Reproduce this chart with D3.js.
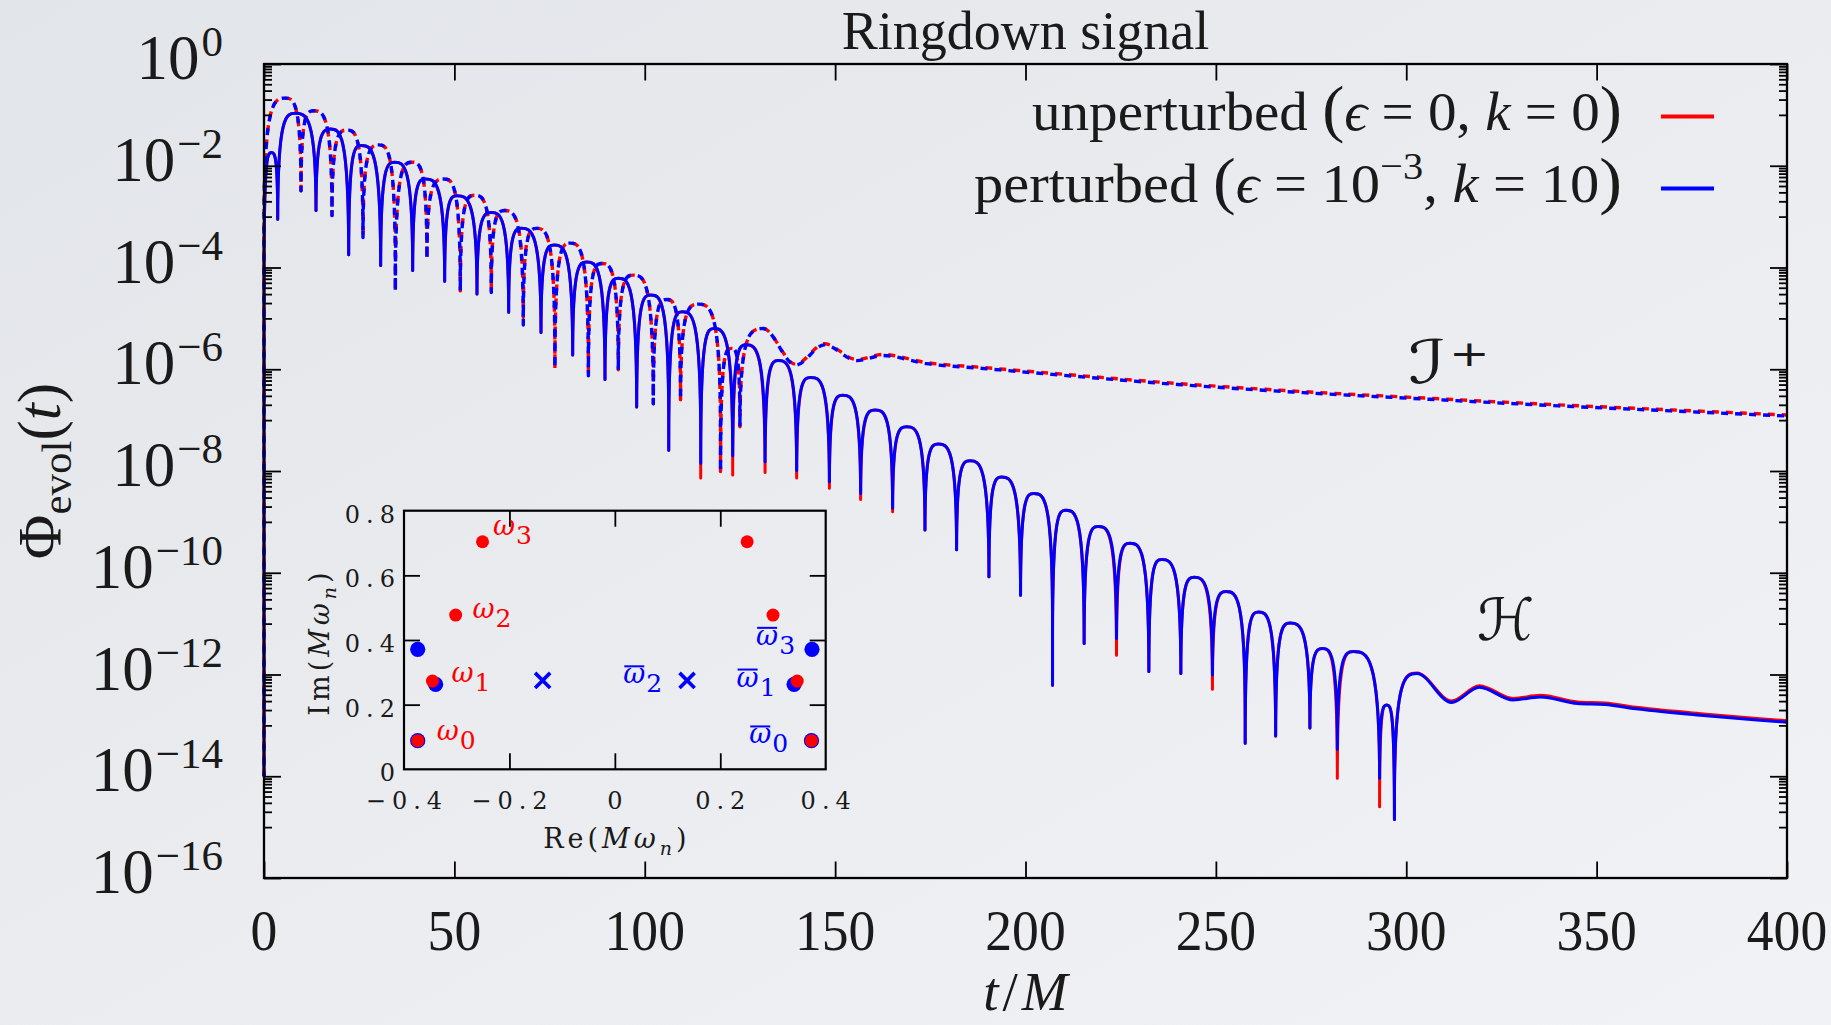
<!DOCTYPE html>
<html>
<head>
<meta charset="utf-8">
<script src="https://cdn.jsdelivr.net/npm/d3@7"></script>
<style>
  html, body { margin: 0; padding: 0; overflow: hidden; }
  body { width: 1831px; height: 1025px; }
</style>
</head>
<body>
<svg id="chart" width="1831" height="1025"></svg>
<script>
// ---------------------------------------------------------------
// Ringdown data.  Values are log10 of Phi_evol; times are t/M.
// Each ringing branch is stored as alternating zero crossings (dips)
// and lobe maxima, followed by the smooth late-time tail.
// ---------------------------------------------------------------

// Horizon (H) signal, solid lines
const hDipT = [0, 3.6, 13.66, 22.24, 30.64, 39.05, 47.45, 55.94, 64.26, 72.75,
  81.07, 89.56, 97.88, 106.3, 114.7, 123.1, 131.6, 139.9, 148.5, 156.7,
  165.1, 173.6, 181.9, 190.4, 198.7, 207.1, 215.4, 223.9, 232.4, 240.8,
  249.1, 257.7, 265.7, 274.7, 281.9, 293.0, 296.9];
const hDipUnpert = [-14, -3.05, -2.88, -3.75, -3.96, -4.06, -4.27, -4.52, -4.88, -5.28,
  -5.72, -6.2, -6.74, -7.59, -8.14, -8.08, -8.03, -8.14, -8.34, -8.56,
  -8.8, -9.16, -9.55, -10.08, -10.44, -12.21, -11.39, -11.62, -11.94, -11.98,
  -12.29, -13.35, -13.21, -13.05, -14.04, -14.6, -14.85];
const hDipPert = [-14, -3.05, -2.88, -3.75, -3.96, -4.06, -4.27, -4.52, -4.88, -5.28,
  -5.72, -6.2, -6.74, -7.59, -7.85, -7.7, -7.82, -7.99, -8.21, -8.44,
  -8.73, -9.16, -9.55, -10.08, -10.44, -12.21, -11.39, -11.29, -11.94, -11.98,
  -12.01, -13.35, -13.21, -13.05, -13.47, -14.04, -14.85];
const hPeakT = [1.92, 8.23, 17.42, 25.56, 34.32, 42.37, 50.69, 59.71, 67.6, 76.25,
  84.75, 93.06, 101.56, 109.87, 118.2, 126.6, 135.1, 143.6, 152.0, 160.5,
  168.8, 177.1, 185.4, 193.7, 202.2, 210.6, 219.1, 227.4, 235.8, 244.3,
  252.7, 261.2, 269.5, 278.0, 286.1, 294.9, 302.8];
const hPeakUnpert = [-1.74, -0.97, -1.28, -1.6, -1.93, -2.26, -2.59, -2.92, -3.23, -3.56,
  -3.89, -4.21, -4.54, -4.87, -5.2, -5.52, -5.83, -6.16, -6.51, -6.8,
  -7.13, -7.47, -7.8, -8.12, -8.44, -8.77, -9.09, -9.42, -9.74, -10.09,
  -10.37, -10.77, -10.99, -11.49, -11.55, -12.6, -11.97];
const hPeakPert = [-1.74, -0.97, -1.28, -1.6, -1.93, -2.26, -2.59, -2.92, -3.23, -3.56,
  -3.89, -4.21, -4.54, -4.87, -5.2, -5.52, -5.83, -6.16, -6.51, -6.8,
  -7.13, -7.47, -7.8, -8.12, -8.44, -8.77, -9.09, -9.42, -9.74, -10.09,
  -10.37, -10.77, -10.99, -11.49, -11.55, -12.6, -11.98];
const hTailT = [311.9, 319.2, 328.1, 335.2, 345, 352.1, 361, 378.8, 400];
const hTailUnpert = [-12.52, -12.22, -12.47, -12.41, -12.54, -12.56, -12.65, -12.78, -12.91];
const hTailPert = [-12.55, -12.25, -12.5, -12.44, -12.57, -12.59, -12.68, -12.81, -12.94];

// Null infinity (I+) signal, dashed lines
const sDipT = [0, 9.72, 17.86, 26.0, 34.5, 42.8, 51.56, 59.7, 68.1, 76.4,
  85.2, 93.06, 102.25, 109.4, 119.9, 125.0];
const sDipUnpert = [-14, -2.49, -2.98, -3.41, -4.46, -3.83, -4.46, -4.49, -4.98, -5.98,
  -6.13, -6.01, -6.68, -6.6, -8.01, -7.13];
const sDipPert = [-14, -2.49, -2.98, -3.41, -4.46, -3.83, -4.46, -4.49, -5.13, -5.98,
  -6.13, -6.01, -6.68, -6.6, -8.01, -7.13];
const sPeakT = [5.6, 13.05, 21.8, 30.1, 38.87, 47.2, 55.33, 63.2, 71.6, 80.4,
  88.7, 97.0, 105.76, 114.1, 122.8, 131.1];
const sPeakUnpert = [-0.67, -0.92, -1.3, -1.59, -1.93, -2.26, -2.58, -2.88, -3.23, -3.52,
  -3.92, -4.15, -4.63, -4.72, -5.59, -5.2];
const sPeakPert = [-0.67, -0.92, -1.3, -1.59, -1.93, -2.26, -2.58, -2.88, -3.23, -3.52,
  -3.92, -4.15, -4.63, -4.72, -5.59, -5.2];
const sTailT = [139.6, 147.2, 155.7, 162.5, 174, 188, 207, 240, 273, 306, 340, 370, 400];
const sTailUnpert = [-5.9, -5.5, -5.81, -5.71, -5.87, -5.96, -6.08, -6.28, -6.44, -6.57, -6.7, -6.8, -6.9];
const sTailPert = [-5.92, -5.52, -5.83, -5.73, -5.89, -5.98, -6.1, -6.3, -6.46, -6.59, -6.72, -6.82, -6.92];

// Axis ticks
const xTicks = [0, 50, 100, 150, 200, 250, 300, 350, 400];
const yTickExp = [0, -2, -4, -6, -8, -10, -12, -14, -16];

// Inset: quasinormal frequencies in the complex plane
const qnmReUnpert = [-0.374, -0.346, -0.302, -0.251, 0.251, 0.300, 0.346, 0.373];
const qnmImUnpert = [0.0887, 0.273, 0.477, 0.704, 0.704, 0.477, 0.273, 0.0887];
const qnmRePert = [-0.374, -0.340, -0.374, 0.374, 0.340, 0.373];
const qnmImPert = [0.0887, 0.263, 0.371, 0.371, 0.263, 0.0887];
const qnmRePertCross = [-0.137, 0.137];
const qnmImPertCross = [0.275, 0.275];
const insetXTicks = [-0.4, -0.2, 0, 0.2, 0.4];
const insetYTicks = [0, 0.2, 0.4, 0.6, 0.8];
const labelIdx = ["0", "1", "2", "3"];
const labelReUnpert = [-0.338, -0.310, -0.270, -0.231];
const labelImUnpert = [0.0906, 0.271, 0.467, 0.725];
const labelRePert = [0.255, 0.231, 0.016, 0.268];
const labelImPert = [0.080, 0.256, 0.266, 0.385];

// ---------------------------------------------------------------
const RED = "#ff0000", BLUE = "#0000ff", INK = "#1a1a1a";
const SERIF = '"Liberation Serif", "DejaVu Serif", serif';
const CMF = '"DejaVu Serif", "Liberation Serif", serif';

const svg = d3.select("#chart");
const defs = svg.append("defs");
const grad = defs.append("linearGradient").attr("id", "bg")
  .attr("x1", 0).attr("y1", 0).attr("x2", 1).attr("y2", 1);
grad.append("stop").attr("offset", 0).attr("stop-color", "#e2e5e9");
grad.append("stop").attr("offset", 0.5).attr("stop-color", "#eaecef");
grad.append("stop").attr("offset", 1).attr("stop-color", "#f1f2f5");
svg.append("rect").attr("width", 1831).attr("height", 1025).attr("fill", "url(#bg)");

const x = d3.scaleLinear().domain([0, 400]).range([264, 1787]);
const y = d3.scaleLog().domain([1e-16, 1]).range([878, 64]);
const yl = v => y(Math.pow(10, v));

// ---- curves ----------------------------------------------------
function ringPoints(dipT, dipV, peakT, peakV, tailT, tailV) {
  const pts = [];
  dipT.forEach((t, i) => {
    pts.push({ t, v: dipV[i], zero: true });
    if (i < peakT.length) pts.push({ t: peakT[i], v: peakV[i], zero: false });
  });
  tailT.forEach((t, i) => pts.push({ t, v: tailV[i], zero: false }));
  return pts;
}

// A zero crossing shows as a vertical spike on the log axis; each lobe
// rises from it with a vertical tangent and rounds over at its maximum.
const spikeSpan = yl(-2.5) - yl(0);
function ringPath(pts) {
  const P = pts.map(p => ({ x: x(p.t), y: yl(p.v), zero: p.zero }));
  const n = P.length;
  const m = P.map((p, i) => {
    const a = P[i - 1], b = P[i + 1];
    if (p.zero || (a && a.zero) || (b && b.zero)) return 0;
    if (!a) return (b.y - p.y) / (b.x - p.x);
    if (!b) return (p.y - a.y) / (p.x - a.x);
    const h0 = p.x - a.x, h1 = b.x - p.x;
    const s0 = (p.y - a.y) / h0, s1 = (b.y - p.y) / h1;
    if (s0 * s1 <= 0) return 0;
    const q = (s0 * h1 + s1 * h0) / (h0 + h1);
    return (Math.sign(s0) + Math.sign(s1)) * Math.min(Math.abs(s0), Math.abs(s1), 0.5 * Math.abs(q));
  });
  const path = d3.path();
  path.moveTo(P[0].x, P[0].y);
  for (let i = 0; i < n - 1; i++) {
    const a = P[i], b = P[i + 1];
    if (a.zero && !b.zero) {
      const ys = Math.min(a.y, b.y + spikeSpan);
      path.lineTo(a.x, ys);
      path.bezierCurveTo(a.x, b.y, a.x + 0.5 * (b.x - a.x), b.y, b.x, b.y);
    } else if (!a.zero && b.zero) {
      const ye = Math.min(b.y, a.y + spikeSpan);
      path.bezierCurveTo(b.x - 0.5 * (b.x - a.x), a.y, b.x, a.y, b.x, ye);
      path.lineTo(b.x, b.y);
    } else {
      const d = (b.x - a.x) / 3;
      path.bezierCurveTo(a.x + d, a.y + m[i] * d, b.x - d, b.y - m[i + 1] * d, b.x, b.y);
    }
  }
  return path.toString();
}

const curves = svg.append("g").attr("fill", "none")
  .attr("stroke-linejoin", "round").attr("stroke-linecap", "butt");

const hUnpert = ringPoints(hDipT, hDipUnpert, hPeakT, hPeakUnpert, hTailT, hTailUnpert);
const hPert = ringPoints(hDipT, hDipPert, hPeakT, hPeakPert, hTailT, hTailPert);
const sUnpert = ringPoints(sDipT, sDipUnpert, sPeakT, sPeakUnpert, sTailT, sTailUnpert);
const sPert = ringPoints(sDipT, sDipPert, sPeakT, sPeakPert, sTailT, sTailPert);

curves.append("path").attr("d", ringPath(hUnpert)).attr("stroke", RED).attr("stroke-width", 3);
curves.append("path").attr("d", ringPath(sUnpert)).attr("stroke", RED).attr("stroke-width", 3.4)
  .attr("stroke-dasharray", "7 7");
curves.append("path").attr("d", ringPath(hPert)).attr("stroke", BLUE).attr("stroke-width", 3);
curves.append("path").attr("d", ringPath(sPert)).attr("stroke", BLUE).attr("stroke-width", 3.4)
  .attr("stroke-dasharray", "7 7").attr("stroke-dashoffset", 3);

// ---- axes ------------------------------------------------------
const majorY = yTickExp.map(e => Math.pow(10, e));
const minorY = [];
yTickExp.slice(0, -1).forEach(e => {
  for (let k = 1; k <= 9; k++) minorY.push(k * Math.pow(10, e - 1));
});

function tickGroup(axis, tx, ty) {
  const g = svg.append("g").attr("transform", `translate(${tx},${ty})`).call(axis);
  g.select(".domain").remove();
  g.selectAll("line").attr("stroke", "#000").attr("stroke-width", 1.8);
  return g;
}
tickGroup(d3.axisLeft(y).tickValues(majorY).tickSize(-17).tickFormat(""), 264, 0);
tickGroup(d3.axisLeft(y).tickValues(minorY).tickSize(-8).tickFormat(""), 264, 0);
tickGroup(d3.axisRight(y).tickValues(majorY).tickSize(-17).tickFormat(""), 1787, 0);
tickGroup(d3.axisRight(y).tickValues(minorY).tickSize(-8).tickFormat(""), 1787, 0);
tickGroup(d3.axisBottom(x).tickValues(xTicks).tickSize(-16.5).tickFormat(""), 0, 878);
tickGroup(d3.axisTop(x).tickValues(xTicks).tickSize(-16.5).tickFormat(""), 0, 64);

svg.append("rect").attr("x", x(0)).attr("y", y(1))
  .attr("width", x(400) - x(0)).attr("height", y(1e-16) - y(1))
  .attr("fill", "none").attr("stroke", "#000").attr("stroke-width", 2.3);

// y tick labels 10^n
yTickExp.forEach(e => {
  const t = svg.append("text")
    .attr("x", 223).attr("y", y(Math.pow(10, e)) + 15)
    .attr("text-anchor", "end").attr("fill", INK)
    .style("font-family", SERIF).style("font-size", "63px");
  t.append("tspan").text("10");
  t.append("tspan").attr("dy", -23).attr("dx", 2).style("font-size", "43px")
    .text(e === 0 ? "0" : "\u2212" + (-e));
});

// x tick labels
xTicks.forEach(v => {
  svg.append("text")
    .attr("transform", `translate(${x(v)},950) scale(0.94,1)`)
    .attr("text-anchor", "middle").attr("fill", INK)
    .style("font-family", SERIF).style("font-size", "57px")
    .text(v);
});

// axis titles
const xt = svg.append("text").attr("x", (x(0) + x(400)) / 2 + 2).attr("y", 1010)
  .attr("text-anchor", "middle").attr("fill", INK)
  .style("font-family", SERIF).style("font-size", "55px").style("letter-spacing", "4px");
xt.append("tspan").style("font-style", "italic").text("t");
xt.append("tspan").text("/");
xt.append("tspan").style("font-style", "italic").text("M");

const yt = svg.append("text")
  .attr("transform", `translate(60,${(y(1) + y(1e-16)) / 2}) rotate(-90)`)
  .attr("text-anchor", "middle").attr("fill", INK)
  .style("font-family", SERIF).style("font-size", "61px");
yt.append("tspan").text("\u03A6");
yt.append("tspan").attr("dy", 11).style("font-size", "43px").text("evol");
yt.append("tspan").attr("dy", -11).text("(");
yt.append("tspan").style("font-style", "italic").text("t");
yt.append("tspan").text(")");

// title
svg.append("text").attr("x", (x(0) + x(400)) / 2).attr("y", 49)
  .attr("text-anchor", "middle").attr("fill", INK)
  .style("font-family", SERIF).style("font-size", "54px")
  .text("Ringdown signal");

// ---- legend ----------------------------------------------------
function legendRow(baseY, parts, len) {
  const t = svg.append("text").attr("x", 1622).attr("y", baseY)
    .attr("text-anchor", "end").attr("fill", INK)
    .attr("textLength", len).attr("lengthAdjust", "spacingAndGlyphs")
    .style("font-family", SERIF).style("font-size", "55px");
  parts.forEach(p => {
    const s = t.append("tspan").text(p.s);
    if (p.it) s.style("font-style", "italic");
    if (p.size) s.style("font-size", p.size + "px");
    if (p.dy) s.attr("dy", p.dy);
  });
}
legendRow(130, [
  { s: "unperturbed " }, { s: "(", size: 64 }, { s: "\u03F5", it: true },
  { s: " = 0, " }, { s: "k", it: true }, { s: " = 0" }, { s: ")", size: 64 }
], 590);
legendRow(202, [
  { s: "perturbed " }, { s: "(", size: 64 }, { s: "\u03F5", it: true },
  { s: " = 10" }, { s: "\u22123", size: 38, dy: -23 }, { s: ", ", dy: 23 },
  { s: "k", it: true }, { s: " = 10" }, { s: ")", size: 64 }
], 648);
svg.append("line").attr("x1", 1661).attr("x2", 1714).attr("y1", 116.5).attr("y2", 116.5)
  .attr("stroke", RED).attr("stroke-width", 4);
svg.append("line").attr("x1", 1661).attr("x2", 1714).attr("y1", 188.5).attr("y2", 188.5)
  .attr("stroke", BLUE).attr("stroke-width", 4);

// region labels
const scri = svg.append("text")
  .attr("transform", `translate(${x(300.5)},${yl(-6.27)}) scale(1.35,1)`)
  .attr("fill", INK).style("font-family", '"DejaVu Sans", "DejaVu Serif", sans-serif')
  .style("font-size", "60px").style("font-style", "italic");
scri.append("tspan").text("\u2110");
scri.append("tspan").attr("dy", -17).attr("dx", 2).style("font-size", "36px")
  .style("font-style", "normal").text("+");
svg.append("text").attr("x", x(318.6)).attr("y", yl(-11.32))
  .attr("fill", INK).style("font-family", '"DejaVu Sans", "DejaVu Serif", sans-serif')
  .style("font-size", "58px").style("font-style", "italic")
  .text("\u210B");

// ---- inset: QNM spectrum --------------------------------------
const ix = d3.scaleLinear().domain([-0.4, 0.4]).range([404, 825.7]);
const iy = d3.scaleLinear().domain([0, 0.8]).range([769.3, 510.7]);
const inner = insetXTicks.slice(1, -1), innerY = insetYTicks.slice(1, -1);
tickGroup(d3.axisBottom(ix).tickValues(inner).tickSize(-16).tickFormat(""), 0, iy(0));
tickGroup(d3.axisTop(ix).tickValues(inner).tickSize(-16).tickFormat(""), 0, iy(0.8));
tickGroup(d3.axisLeft(iy).tickValues(innerY).tickSize(-16).tickFormat(""), ix(-0.4), 0);
tickGroup(d3.axisRight(iy).tickValues(innerY).tickSize(-16).tickFormat(""), ix(0.4), 0);
svg.append("rect").attr("x", ix(-0.4)).attr("y", iy(0.8))
  .attr("width", ix(0.4) - ix(-0.4)).attr("height", iy(0) - iy(0.8))
  .attr("fill", "none").attr("stroke", "#000").attr("stroke-width", 2.2);

const fmtInset = v => (v < 0 ? "\u2212" : "") + (v === 0 ? "0" : Math.abs(v).toFixed(1));
const LS = 6;
insetXTicks.forEach(v => {
  svg.append("text").attr("x", ix(v) + LS / 2).attr("y", 809)
    .attr("text-anchor", "middle").attr("fill", INK)
    .style("font-family", CMF).style("font-size", "24px").style("letter-spacing", LS + "px")
    .text(fmtInset(v));
});
insetYTicks.forEach(v => {
  svg.append("text").attr("x", ix(-0.4) - 9 + LS).attr("y", iy(v) + 12)
    .attr("text-anchor", "end").attr("fill", INK)
    .style("font-family", CMF).style("font-size", "24px").style("letter-spacing", LS + "px")
    .text(fmtInset(v));
});
function mathLabel(sel) {
  sel.append("tspan").text("(");
  sel.append("tspan").style("font-style", "italic").text("M\u03C9");
  sel.append("tspan").attr("dy", 7).style("font-size", "19px").style("font-style", "italic").text("n");
  sel.append("tspan").attr("dy", -7).text(")");
}
const reT = svg.append("text").attr("x", (ix(-0.4) + ix(0.4)) / 2 + 2).attr("y", 848)
  .attr("text-anchor", "middle").attr("fill", INK)
  .style("font-family", CMF).style("font-size", "27px").style("letter-spacing", "4px");
reT.append("tspan").text("Re");
mathLabel(reT);
const imT = svg.append("text")
  .attr("transform", `translate(329,${(iy(0) + iy(0.8)) / 2 + 2}) rotate(-90)`)
  .attr("text-anchor", "middle").attr("fill", INK)
  .style("font-family", CMF).style("font-size", "27px").style("letter-spacing", "4px");
imT.append("tspan").text("Im");
mathLabel(imT);

const marks = svg.append("g");
marks.selectAll("circle.pert").data(qnmRePert.map((r, i) => [r, qnmImPert[i]]))
  .join("circle").attr("class", "pert")
  .attr("cx", d => ix(d[0])).attr("cy", d => iy(d[1])).attr("r", 7.6).attr("fill", BLUE);
marks.selectAll("circle.unpert").data(qnmReUnpert.map((r, i) => [r, qnmImUnpert[i]]))
  .join("circle").attr("class", "unpert")
  .attr("cx", d => ix(d[0])).attr("cy", d => iy(d[1])).attr("r", 6.5).attr("fill", RED);
const cross = d3.symbol().type(d3.symbolX).size(150);
marks.selectAll("path.cross").data(qnmRePertCross.map((r, i) => [r, qnmImPertCross[i]]))
  .join("path").attr("class", "cross")
  .attr("transform", d => `translate(${ix(d[0])},${iy(d[1])})`)
  .attr("d", cross).attr("fill", "none").attr("stroke", BLUE).attr("stroke-width", 3.6);

function omegaLabel(re, im, idx, color, bar) {
  const px = ix(re), py = iy(im);
  const t = svg.append("text").attr("x", px).attr("y", py).attr("fill", color)
    .style("font-family", CMF);
  t.append("tspan").style("font-size", "27px").style("font-style", "italic").text("\u03C9");
  t.append("tspan").attr("dy", 9).attr("dx", 1).style("font-size", "25px").text(idx);
  if (bar) {
    svg.append("line").attr("x1", px + 1).attr("x2", px + 21)
      .attr("y1", py - 17).attr("y2", py - 17)
      .attr("stroke", color).attr("stroke-width", 2);
  }
}
labelIdx.forEach((k, i) => omegaLabel(labelReUnpert[i], labelImUnpert[i], k, RED, false));
labelIdx.forEach((k, i) => omegaLabel(labelRePert[i], labelImPert[i], k, BLUE, true));
</script>
</body>
</html>
